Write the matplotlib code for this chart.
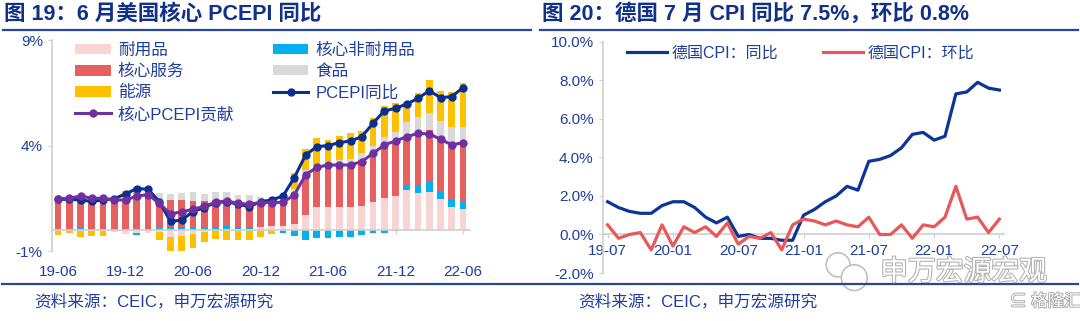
import numpy as np
import pandas as pd
import matplotlib
matplotlib.use('Agg')
import matplotlib.pyplot as plt
import matplotlib.patheffects as pe
from matplotlib.patches import Ellipse

plt.rcParams['font.family'] = ['Liberation Sans', 'Noto Sans CJK SC']
plt.rcParams['axes.unicode_minus'] = False

# 美国 PCE 分项拉动 (%), 2019-06 ~ 2022-06
us_months = pd.date_range('2019-06', '2022-06', freq='MS').strftime('%y-%m')
durable = [-0.05, -0.05, -0.05, -0.05, -0.05, -0.08, -0.20, -0.15, -0.15, -0.12,
           -0.35, -0.28, -0.20, -0.08, 0.02, 0.05, 0.06, 0.06, 0.15, 0.19,
           0.20, 0.28, 0.71, 1.07, 1.10, 1.07, 1.07, 1.14, 1.34, 1.53,
           1.60, 1.90, 1.77, 1.78, 1.45, 1.10, 0.98]
nondurable = [0.03, 0.03, 0.10, 0.05, 0.05, 0.03, 0.03, -0.10, 0.02, 0.08,
              0.15, 0.15, 0.12, 0.10, 0.12, 0.15, 0.08, 0.08, 0.00, 0.02,
              -0.13, -0.27, -0.50, -0.40, -0.40, -0.35, -0.35, -0.25, -0.15, -0.15,
              -0.03, 0.19, 0.36, 0.47, 0.36, 0.32, 0.36]
services = [1.38, 1.42, 1.42, 1.42, 1.42, 1.38, 1.45, 1.62, 1.66, 1.34,
            1.25, 1.25, 1.27, 1.29, 1.30, 1.29, 1.22, 1.20, 1.10, 1.07,
            1.12, 1.38, 1.90, 1.77, 1.98, 2.01, 2.01, 2.16, 2.29, 2.50,
            2.63, 2.36, 2.47, 2.49, 2.53, 2.61, 2.80]
food = [0.03, 0.03, 0.03, 0.03, 0.03, 0.04, 0.05, 0.05, 0.06, 0.35,
        0.30, 0.37, 0.40, 0.32, 0.35, 0.30, 0.30, 0.30, 0.30, 0.28,
        0.25, 0.30, 0.24, 0.20, 0.20, 0.25, 0.30, 0.35, 0.35, 0.40,
        0.40, 0.68, 0.76, 0.79, 0.84, 0.84, 0.73]
energy = [-0.18, -0.10, -0.28, -0.25, -0.23, 0.05, 0.30, 0.35, 0.25, -0.35,
          -0.68, -0.84, -0.67, -0.47, -0.44, -0.47, -0.50, -0.50, -0.32, -0.19,
          0.15, 0.75, 1.00, 1.30, 1.00, 1.14, 1.20, 1.05, 1.32, 1.45,
          1.37, 0.95, 1.12, 1.57, 1.41, 1.65, 2.08]
pce_yoy = [1.45, 1.45, 1.42, 1.35, 1.42, 1.48, 1.71, 1.96, 1.93, 1.34,
           0.40, 0.47, 0.87, 1.06, 1.30, 1.34, 1.22, 1.10, 1.34, 1.42,
           1.61, 2.48, 3.55, 3.95, 4.00, 4.14, 4.22, 4.42, 5.06, 5.64,
           5.77, 5.97, 6.24, 6.60, 6.27, 6.32, 6.75]
core_contrib = [1.47, 1.50, 1.61, 1.50, 1.50, 1.42, 1.42, 1.60, 1.68, 1.26,
                0.76, 0.86, 0.98, 1.12, 1.31, 1.37, 1.26, 1.22, 1.30, 1.30,
                1.31, 1.66, 2.61, 2.97, 3.08, 3.08, 3.08, 3.24, 3.63, 4.03,
                4.22, 4.42, 4.58, 4.55, 4.30, 4.03, 4.14]

# 德国 CPI (%), 2019-07 ~ 2022-07
de_months = pd.date_range('2019-07', '2022-07', freq='MS').strftime('%y-%m')
de_yoy = [1.7, 1.4, 1.2, 1.1, 1.1, 1.5, 1.7, 1.7, 1.4, 0.9, 0.6, 0.9, -0.1,
          0.0, -0.2, -0.2, -0.3, -0.3, 1.0, 1.3, 1.7, 2.0, 2.5, 2.3, 3.8,
          3.9, 4.1, 4.5, 5.2, 5.3, 4.9, 5.1, 7.3, 7.4, 7.9, 7.6, 7.5]
de_mom = [0.5, -0.2, 0.0, 0.1, -0.8, 0.5, -0.6, 0.4, 0.1, 0.4, -0.1, 0.6, -0.5,
          -0.1, -0.2, 0.1, -0.8, 0.5, 0.8, 0.7, 0.5, 0.7, 0.5, 0.4, 0.9,
          0.0, 0.0, 0.5, -0.2, 0.5, 0.4, 0.9, 2.5, 0.8, 0.9, 0.1, 0.8]

TXT = '#1f3f9c'
TITLE = '#10308a'
AXC = '#d0d0d0'

fig = plt.figure(figsize=(10.8, 3.21), dpi=100)

# ---------- 左图：美国 PCE ----------
ax1 = fig.add_axes([0.048, 0.218, 0.387, 0.657])
x = np.arange(len(us_months))
comps = [(durable, '#f8d4d4', '耐用品'),
         (nondurable, '#00b0f0', '核心非耐用品'),
         (services, '#e5605e', '核心服务'),
         (food, '#d9d9d9', '食品'),
         (energy, '#ffc000', '能源')]
pos_base = np.zeros(len(x))
neg_base = np.zeros(len(x))
bars = {}
for vals, col, name in comps:
    v = np.array(vals)
    base = np.where(v >= 0, pos_base, neg_base)
    bars[name] = ax1.bar(x, v, 0.6, bottom=base, color=col, label=name, zorder=2)
    pos_base += np.where(v >= 0, v, 0)
    neg_base += np.where(v < 0, v, 0)

l_pce, = ax1.plot(x, pce_yoy, color='#0b2f8f', lw=2.2, marker='o', ms=5, label='PCEPI同比', zorder=4)
l_core, = ax1.plot(x, core_contrib, color='#7030a0', lw=2.2, marker='o', ms=5, label='核心PCEPI贡献', zorder=5)

ax1.set_xlim(-0.55, 36.6)
ax1.set_ylim(-1, 9)
ax1.set_yticks([-1, 4, 9])
ax1.set_yticklabels(['-1%', '4%', '9%'])
ax1.set_xticks(x[::6])
ax1.set_xticklabels(us_months[::6])
for s in ['top', 'right']:
    ax1.spines[s].set_visible(False)
ax1.spines['bottom'].set_position(('data', 0))
ax1.spines['left'].set_color(AXC)
ax1.spines['bottom'].set_color(AXC)
ax1.spines['left'].set_linewidth(1.2)
ax1.spines['bottom'].set_linewidth(1.2)
ax1.tick_params(axis='x', length=3, color=AXC, labelcolor=TXT, labelsize=11, pad=22)
ax1.tick_params(axis='y', length=3, color=AXC, labelcolor=TXT, labelsize=11)

handles = [bars['耐用品'], bars['核心服务'], bars['能源'], l_core,
           bars['核心非耐用品'], bars['食品'], l_pce]
ax1.legend(handles=handles, labels=[h.get_label() for h in handles], ncol=2,
           loc='upper left', bbox_to_anchor=(0.062, 0.893), bbox_transform=fig.transFigure,
           frameon=False, fontsize=12, labelcolor=TXT, handlelength=2.15, handleheight=0.6,
           columnspacing=2.3, labelspacing=0.36, handletextpad=0.4, borderpad=0)

# ---------- 右图：德国 CPI ----------
ax2 = fig.add_axes([0.558, 0.1495, 0.372, 0.72])
x2 = np.arange(len(de_months))
ax2.plot(x2, de_yoy, color='#0b3596', lw=2.3, label='德国CPI：同比', zorder=3)
ax2.plot(x2, de_mom, color='#e8585a', lw=2.3, label='德国CPI：环比', zorder=3)
ax2.set_xlim(-0.46, 36.46)
ax2.set_ylim(-2, 10)
ax2.set_yticks(np.arange(-2, 10.1, 2))
ax2.set_yticklabels([f'{v:.1f}%' for v in np.arange(-2, 10.1, 2)])
ax2.set_xticks(x2[::6])
ax2.set_xticklabels(de_months[::6])
for s in ['top', 'right']:
    ax2.spines[s].set_visible(False)
ax2.spines['bottom'].set_position(('data', 0))
ax2.spines['left'].set_color(AXC)
ax2.spines['bottom'].set_color(AXC)
ax2.spines['left'].set_linewidth(1.2)
ax2.spines['bottom'].set_linewidth(1.2)
ax2.tick_params(axis='x', length=3, color=AXC, labelcolor=TXT, labelsize=11, pad=3.5)
ax2.tick_params(axis='y', length=3, color=AXC, labelcolor=TXT, labelsize=11)
ax2.legend(ncol=2, loc='upper left', bbox_to_anchor=(0.573, 0.882), bbox_transform=fig.transFigure,
           frameon=False, fontsize=11.5, labelcolor=TXT, handlelength=2.5,
           columnspacing=2.8, handletextpad=0.3, borderpad=0)

# ---------- 标题、线条、来源 ----------
fig.text(0.004, 0.957, '图 19：6 月美国核心 PCEPI 同比', fontsize=15.5, fontweight='bold',
         color=TITLE, va='center', ha='left')
fig.text(0.502, 0.957, '图 20：德国 7 月 CPI 同比 7.5%，环比 0.8%', fontsize=15.5, fontweight='bold',
         color=TITLE, va='center', ha='left')
fig.add_artist(plt.Line2D([0.003, 0.492], [0.907, 0.907], color='#2846a0', lw=1.6))
fig.add_artist(plt.Line2D([0.500, 0.998], [0.907, 0.907], color='#2846a0', lw=1.6))
fig.add_artist(plt.Line2D([0.002, 0.998], [0.115, 0.115], color='#2846a0', lw=1.6))
fig.text(0.032, 0.062, '资料来源：CEIC，申万宏源研究', fontsize=12, color=TXT, va='center')
fig.text(0.535, 0.062, '资料来源：CEIC，申万宏源研究', fontsize=12, color=TXT, va='center')

# 水印
outline = [pe.withStroke(linewidth=1.6, foreground='#b5b5b5')]
fig.text(0.815, 0.150, '申万宏源宏观', fontsize=20, color='white', va='center',
         path_effects=outline)
fig.add_artist(Ellipse((0.776, 0.175), 0.022, 0.075, fill=False, ec='#c0c0c0', lw=1.2))
fig.add_artist(Ellipse((0.791, 0.135), 0.024, 0.080, fc='white', ec='#c0c0c0', lw=1.2))
fig.text(0.935, 0.060, '⊆ 格隆汇', fontsize=12, color='white', va='center',
         path_effects=[pe.withStroke(linewidth=1.3, foreground='#a8a8a8')])

fig.savefig('out.png', dpi=100)
